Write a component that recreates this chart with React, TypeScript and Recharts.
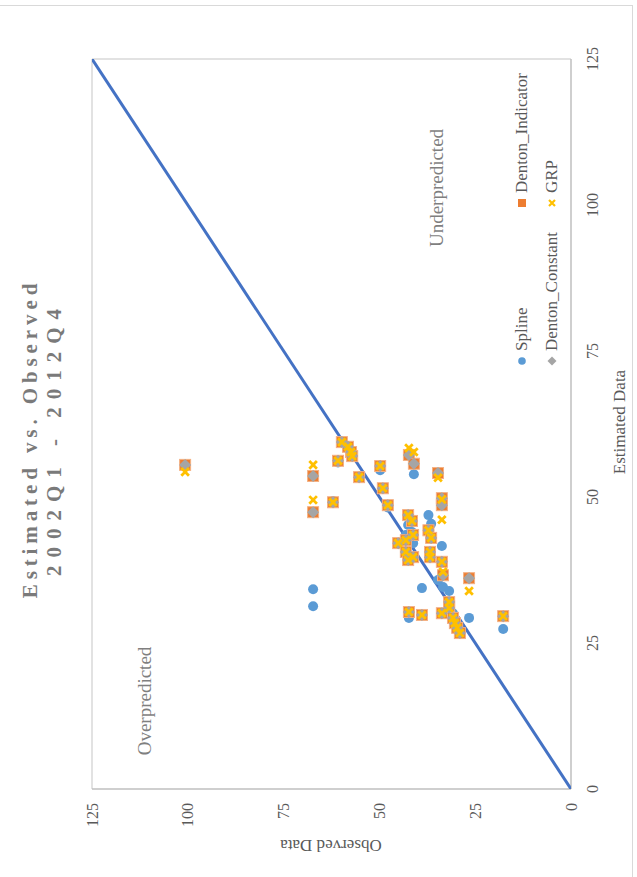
import React from "react";
import { ScatterChart, Scatter, XAxis, YAxis, ReferenceLine } from "recharts";

const FONT = '"Liberation Serif", "Times New Roman", serif';

// axis ticks (same for both axes)
const TICKS = [0, 25, 50, 75, 100, 125];

// observed values, one per quarter
const observed = [
  100.7, 67.3, 67.3, 62.1, 60.8, 59.8, 58.2, 57.4, 57.1, 55.3, 49.8, 49.1, 47.8, 42.3, 41.0,
  34.7, 33.7, 33.7, 42.5, 41.5, 37.2, 36.5, 41.2, 45.1, 43.1, 43.1, 41.2, 42.5, 36.8, 36.8,
  33.7, 33.4, 26.6, 31.8, 31.8, 42.3, 38.9, 33.7, 30.8, 30.3, 29.7, 29.0, 17.7,
];

// estimates by method
const spline = [
  55.5, 34.2, 31.3, 49.3, 55.9, 59.4, 58.6, 57.7, 57.0, 53.4, 54.6, 51.5, 48.2, 57.0, 53.9,
  35.8, 49.8, 48.6, 45.2, 44.0, 46.9, 45.4, 43.5, 42.1, 43.5, 40.6, 42.1, 39.2, 40.6, 39.7,
  41.6, 34.6, 29.3, 33.9, 31.0, 29.3, 34.4, 30.1, 30.1, 28.4, 27.6, 26.7, 27.4,
];
const dentonIndicator = [
  55.5, 53.6, 47.4, 49.1, 56.2, 59.4, 58.6, 57.7, 57.0, 53.4, 55.3, 51.5, 48.6, 57.2, 55.7,
  54.1, 49.8, 48.6, 46.9, 45.9, 44.3, 43.0, 43.5, 42.1, 42.6, 40.6, 39.7, 39.2, 40.6, 39.7,
  38.9, 36.6, 36.1, 32.0, 31.3, 30.3, 29.8, 30.1, 29.3, 28.4, 27.6, 26.7, 29.6,
];
const dentonConstant = [
  55.5, 53.6, 47.4, 49.1, 56.2, 59.4, 58.6, 57.7, 57.0, 53.4, 55.3, 51.5, 48.6, 57.2, 55.7,
  54.1, 49.8, 48.6, 46.9, 45.9, 44.3, 43.0, 43.5, 42.1, 42.6, 40.6, 39.7, 39.2, 40.6, 39.7,
  38.9, 36.6, 36.1, 32.0, 31.0, 30.3, 29.8, 30.1, 29.3, 28.4, 27.6, 26.7, 29.6,
];
const grp = [
  54.3, 55.5, 49.5, 49.1, 56.2, 59.4, 58.6, 57.7, 57.0, 53.4, 55.3, 51.5, 48.6, 58.4, 57.7,
  53.3, 49.6, 46.1, 46.9, 45.9, 44.3, 43.0, 43.5, 42.1, 42.6, 40.6, 39.7, 39.2, 40.6, 39.7,
  38.9, 37.2, 33.9, 32.0, 31.0, 30.3, 29.8, 30.1, 29.3, 28.4, 27.6, 26.7, 29.6,
];

// 45 degree reference line
const diagonal = [0, 125];

const toPoints = (est: number[]) => est.map((x, i) => ({ x, y: observed[i] }));
const diagonalPoints = diagonal.map((v) => ({ x: v, y: v }));

const Circle = ({ cx, cy }: any) => <circle cx={cx} cy={cy} r={5} fill="#5B9BD5" />;
const Square = ({ cx, cy }: any) => (
  <rect x={cx - 5.5} y={cy - 5.5} width={11} height={11} fill="#ED7D31" stroke="#F4B183" strokeWidth={1} />
);
const Diamond = ({ cx, cy }: any) => (
  <path d={`M${cx},${cy - 6}L${cx + 6},${cy}L${cx},${cy + 6}L${cx - 6},${cy}Z`} fill="#A5A5A5" />
);
const Cross = ({ cx, cy }: any) => (
  <path
    d={`M${cx - 3.8},${cy - 3.8}L${cx + 3.8},${cy + 3.8}M${cx + 3.8},${cy - 3.8}L${cx - 3.8},${cy + 3.8}`}
    stroke="#FFC000"
    strokeWidth={2.8}
  />
);

const LegendItem = ({ u, v, name, marker }: { u: number; v: number; name: string; marker: React.ReactNode }) => (
  <div style={{ position: "absolute", left: u - 5, top: v - 11, height: 22, display: "flex", alignItems: "center", whiteSpace: "nowrap" }}>
    <svg width={10} height={10} style={{ marginRight: 5 }}>{marker}</svg>
    <span style={{ fontSize: 17, color: "#595959" }}>{name}</span>
  </div>
);

const tickStyle = { fill: "#595959", fontSize: 16, fontFamily: FONT };

export default function App() {
  return (
    <div style={{ position: "absolute", left: 0, top: 0, width: 637, height: 877, overflow: "hidden", background: "#fff", fontFamily: FONT }}>
      <div style={{ position: "absolute", left: -2, top: 5, width: 634, height: 900, borderTop: "1px solid #d9d9d9", borderRight: "1px solid #d9d9d9" }} />
      {/* chart drawn in landscape, then turned a quarter counter-clockwise */}
      <div style={{ position: "absolute", left: 0, top: 0, width: 877, height: 637, transformOrigin: "0 0", transform: "translate(0px, 877px) rotate(-90deg)" }}>
        <div style={{ position: "absolute", left: 0, top: 18, width: 877, textAlign: "center", color: "#7a7a7a", fontWeight: "bold", fontSize: 21, lineHeight: "24px" }}>
          <div style={{ letterSpacing: 4.9 }}>Estimated vs. Observed</div>
          <div style={{ letterSpacing: 8 }}>2002Q1 - 2012Q4</div>
        </div>

        <ScatterChart width={877} height={637} margin={{ top: 92, right: 59, bottom: 0, left: 0 }}>
          <XAxis
            type="number"
            dataKey="x"
            domain={[0, 125]}
            ticks={TICKS}
            height={66}
            axisLine={{ stroke: "#bfbfbf", strokeWidth: 1.5 }}
            tickLine={false}
            tickSize={0}
            tickMargin={16}
            tick={tickStyle}
            allowDataOverflow
          />
          <YAxis
            type="number"
            dataKey="y"
            domain={[0, 125]}
            ticks={TICKS}
            width={88}
            axisLine={{ stroke: "#bfbfbf", strokeWidth: 1.5 }}
            tickLine={false}
            tickSize={0}
            tickMargin={14}
            tick={tickStyle}
            allowDataOverflow
          />
          <ReferenceLine y={125} stroke="#d9d9d9" strokeWidth={1.5} />
          <ReferenceLine x={125} stroke="#d9d9d9" strokeWidth={1.5} />
          <Scatter
            data={diagonalPoints}
            line={{ stroke: "#4472C4", strokeWidth: 3 }}
            shape={() => <g />}
            isAnimationActive={false}
          />
          <Scatter name="Spline" data={toPoints(spline)} shape={Circle} isAnimationActive={false} />
          <Scatter name="Denton_Indicator" data={toPoints(dentonIndicator)} shape={Square} isAnimationActive={false} />
          <Scatter name="Denton_Constant" data={toPoints(dentonConstant)} shape={Diamond} isAnimationActive={false} />
          <Scatter name="GRP" data={toPoints(grp)} shape={Cross} isAnimationActive={false} />
        </ScatterChart>

        <div style={{ position: "absolute", left: 455, top: 620, transform: "translate(-50%, -50%)", fontSize: 17, color: "#595959", whiteSpace: "nowrap" }}>
          Estimated Data
        </div>
        <div style={{ position: "absolute", left: 32, top: 331, transform: "translate(-50%, -50%) rotate(-90deg)", fontSize: 17, color: "#595959", whiteSpace: "nowrap" }}>
          Observed Data
        </div>
        <div style={{ position: "absolute", left: 689, top: 437, transform: "translate(-50%, -50%)", fontSize: 19, color: "#7f7f7f", whiteSpace: "nowrap" }}>
          Underpredicted
        </div>
        <div style={{ position: "absolute", left: 176, top: 145, transform: "translate(-50%, -50%)", fontSize: 19, color: "#7f7f7f", whiteSpace: "nowrap" }}>
          Overpredicted
        </div>

        <LegendItem u={516} v={522} name="Spline" marker={<circle cx={5} cy={5} r={3.8} fill="#5B9BD5" />} />
        <LegendItem u={674} v={522} name="Denton_Indicator" marker={<rect x={1} y={1} width={8} height={8} fill="#ED7D31" />} />
        <LegendItem u={516} v={552} name="Denton_Constant" marker={<path d="M5,0.5L9.5,5L5,9.5L0.5,5Z" fill="#A5A5A5" />} />
        <LegendItem
          u={674}
          v={552}
          name="GRP"
          marker={<path d="M2,2L8,8M8,2L2,8" stroke="#FFC000" strokeWidth={2.2} />}
        />
      </div>
    </div>
  );
}
